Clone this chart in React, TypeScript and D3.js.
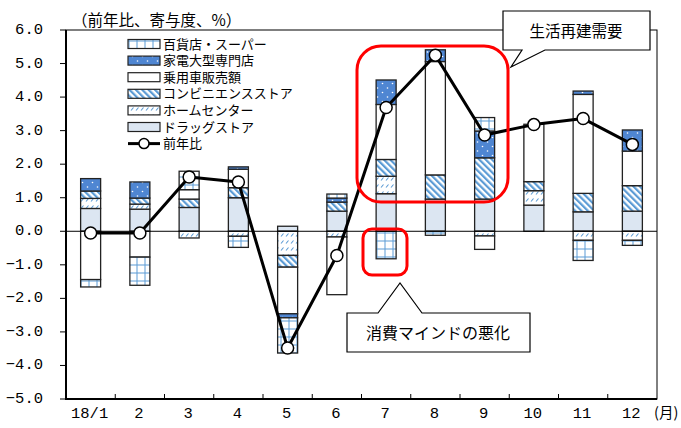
import React from "react";
import * as d3 from "d3";

const months = ["18/1", "2", "3", "4", "5", "6", "7", "8", "9", "10", "11", "12"];
const drugstore = [0.68, 0.66, 0.71, 1.0, 0.15, 0.6, 1.12, 0.96, 0.96, 0.78, 0.58, 0.6];
const homeCenter = [0.3, 0.15, -0.2, -0.15, -0.72, -0.17, 0.52, 0, -0.14, 0.43, -0.27, -0.27];
const convenience = [0.22, 0.18, 0.25, 0.3, -0.35, 0.27, 0.5, 0.72, 1.23, 0.27, 0.55, 0.76];
const cars = [-1.44, -0.77, 0.28, 0.55, -1.39, -1.72, 1.64, 3.38, -0.4, 1.71, 2.95, 1.03];
const appliance = [0.37, 0.48, 0, 0.07, -0.12, 0.12, 0.73, 0.35, 0.8, 0, 0.1, 0.63];
const deptStore = [-0.22, -0.84, 0.55, -0.33, -1.05, 0.12, -0.82, -0.12, 0.4, 0, -0.6, -0.15];
const yoy = [-0.05, -0.05, 1.62, 1.47, -3.48, -0.72, 3.69, 5.25, 2.87, 3.18, 3.36, 2.59];
const yTickValues = [-5, -4, -3, -2, -1, 0, 1, 2, 3, 4, 5, 6];

const seriesKeys = ["drug", "home", "conv", "car", "appl", "dept"];
const seriesLabels: Record<string, string> = {
  dept: "百貨店・スーパー",
  appl: "家電大型専門店",
  car: "乗用車販売額",
  conv: "コンビニエンスストア",
  home: "ホームセンター",
  drug: "ドラッグストア",
};
const legendOrder = ["dept", "appl", "car", "conv", "home", "drug"];
const fills: Record<string, string> = {
  dept: "url(#pGrid)",
  appl: "url(#pDots)",
  car: "#ffffff",
  conv: "url(#pHatch)",
  home: "url(#pDash)",
  drug: "#dce6f2",
};

const table = months.map((m, i) => ({
  month: m,
  drug: drugstore[i],
  home: homeCenter[i],
  conv: convenience[i],
  car: cars[i],
  appl: appliance[i],
  dept: deptStore[i],
}));

const W = 681;
const H = 428;
const left = 66;
const right = 657;
const top = 30;
const bottom = 399;
const barW = 20;
const BLUE = "#5b9bd5";

export default function App() {
  const x = d3.scaleBand<string>().domain(months).range([left, right]).padding(0);
  const y = d3.scaleLinear().domain([-5, 6]).range([bottom, top]);
  const cx = (m: string) => (x(m) as number) + x.bandwidth() / 2;

  const stacked = d3
    .stack<any>()
    .keys(seriesKeys)
    .offset(d3.stackOffsetDiverging)(table);

  const line = d3
    .line<number>()
    .x((_, i) => cx(months[i]))
    .y((v) => y(v));

  const monoFont = "'Liberation Mono', 'DejaVu Sans Mono', monospace";
  const jpFont = "'Noto Sans CJK JP', 'Noto Sans', sans-serif";
  const legFont = "'Liberation Sans', 'Noto Sans CJK JP', sans-serif";

  const legX = 128;
  const legY0 = 44;
  const legDy = 16.6;

  return (
    <svg lang="ja" width={W} height={H} style={{ position: "absolute", left: 0, top: 0, background: "#fff" }}>
      <defs>
        <pattern id="pGrid" patternUnits="userSpaceOnUse" width="8" height="8">
          <rect width="8" height="8" fill="#fff" />
          <path d="M1,0 V8 M0,1 H8" stroke={BLUE} strokeWidth="1" />
        </pattern>
        <pattern id="pDots" patternUnits="userSpaceOnUse" width="10" height="9">
          <rect width="10" height="9" fill="#4f86d2" />
          <circle cx="2.5" cy="2.5" r="0.8" fill="#fff" />
          <circle cx="7.5" cy="7" r="0.8" fill="#fff" />
        </pattern>
        <pattern id="pHatch" patternUnits="userSpaceOnUse" width="4.5" height="4.5" patternTransform="rotate(-45)">
          <rect width="4.5" height="4.5" fill="#fff" />
          <rect width="2.2" height="4.5" fill={BLUE} />
        </pattern>
        <pattern id="pDash" patternUnits="userSpaceOnUse" width="5" height="7">
          <rect width="5" height="7" fill="#fff" />
          <path d="M1,5.5 L3.5,2.5" stroke={BLUE} strokeWidth="1.1" />
        </pattern>
      </defs>

      {/* frame */}
      <rect x={left} y={top} width={right - left} height={bottom - top} fill="none" stroke="#000" strokeWidth={1} />
      <line x1={left} x2={left} y1={top} y2={bottom} stroke="#000" strokeWidth={2} />
      <line x1={left - 1} x2={right} y1={bottom} y2={bottom} stroke="#000" strokeWidth={2.2} />

      {/* y ticks */}
      {yTickValues.map((t) => (
        <g key={t}>
          <line x1={left - 6} x2={left} y1={y(t)} y2={y(t)} stroke="#000" strokeWidth={1} />
          <text
            x={43}
            y={y(t)}
            textAnchor="end"
            dominantBaseline="central"
            fontFamily={monoFont}
            fontSize={15.5}
            fill="#000"
          >
            {d3.format(".1f")(t)}
          </text>
        </g>
      ))}

      {/* x ticks */}
      {months.map((m, i) => (
        <g key={m}>
          {i > 0 && (
            <line x1={x(m)} x2={x(m)} y1={bottom} y2={bottom - 5} stroke="#000" strokeWidth={1} />
          )}
          <text
            x={cx(m) - 1}
            y={414}
            textAnchor="middle"
            dominantBaseline="central"
            fontFamily={monoFont}
            fontSize={15.5}
            fill="#000"
          >
            {m}
          </text>
        </g>
      ))}
      <text x={654} y={411} fontFamily={jpFont} fontSize={14.5} dominantBaseline="central">(月)</text>

      {/* title */}
      <text x={72} y={19} fontFamily={jpFont} fontSize={15.5} dominantBaseline="central">（前年比、寄与度、%）</text>

      {/* bars */}
      {stacked.map((s) => (
        <g key={s.key}>
          {s.map((d, i) => {
            const y0 = y(d[0]);
            const y1 = y(d[1]);
            const h = Math.abs(y0 - y1);
            if (h < 0.01) return null;
            return (
              <rect
                key={i}
                x={cx(months[i]) - barW / 2}
                y={Math.min(y0, y1)}
                width={barW}
                height={h}
                fill={fills[s.key]}
                stroke="#222"
                strokeWidth={1.3}
              />
            );
          })}
        </g>
      ))}

      {/* zero line */}
      <line x1={left} x2={right} y1={y(0)} y2={y(0)} stroke="#000" strokeWidth={1} />

      {/* yoy line */}
      <path d={line(yoy) as string} fill="none" stroke="#000" strokeWidth={3} strokeLinejoin="round" />
      {yoy.map((v, i) => (
        <circle key={i} cx={cx(months[i])} cy={y(v)} r={6} fill="#fff" stroke="#000" strokeWidth={1.5} />
      ))}

      {/* legend */}
      {legendOrder.map((k, i) => {
        const yy = legY0 + i * legDy;
        return (
          <g key={k}>
            <rect x={legX} y={yy - 4.5} width={32} height={9} fill={fills[k]} stroke="#222" strokeWidth={1.2} />
            <text x={legX + 35} y={yy} fontFamily={legFont} fontSize={13} dominantBaseline="central">
              {seriesLabels[k]}
            </text>
          </g>
        );
      })}
      <g>
        <line x1={legX} x2={legX + 32} y1={legY0 + 6 * legDy} y2={legY0 + 6 * legDy} stroke="#000" strokeWidth={3} />
        <circle cx={legX + 16} cy={legY0 + 6 * legDy} r={5} fill="#fff" stroke="#000" strokeWidth={1.5} />
        <text x={legX + 35} y={legY0 + 6 * legDy} fontFamily={legFont} fontSize={13} dominantBaseline="central">
          前年比
        </text>
      </g>

      {/* red highlight boxes */}
      <rect x={357} y={46} width={151} height={156} rx={24} ry={24} fill="none" stroke="#ff0000" strokeWidth={3} />
      <rect x={363} y={229} width={44} height={46} rx={9} ry={9} fill="none" stroke="#ff0000" strokeWidth={3} />

      {/* callout 1 */}
      <path
        d="M503,11 H650 V50 H545 L511,67 L522,50 H503 Z"
        fill="#fff"
        stroke="#000"
        strokeWidth={1.2}
      />
      <text x={576} y={30} textAnchor="middle" dominantBaseline="central" fontFamily={jpFont} fontSize={15.5}>
        生活再建需要
      </text>

      {/* callout 2 */}
      <path
        d="M347,313 H378 L400,283 L422,313 H530 V352 H347 Z"
        fill="#fff"
        stroke="#000"
        strokeWidth={1.2}
      />
      <text x={438} y={332} textAnchor="middle" dominantBaseline="central" fontFamily={jpFont} fontSize={16}>
        消費マインドの悪化
      </text>
    </svg>
  );
}
